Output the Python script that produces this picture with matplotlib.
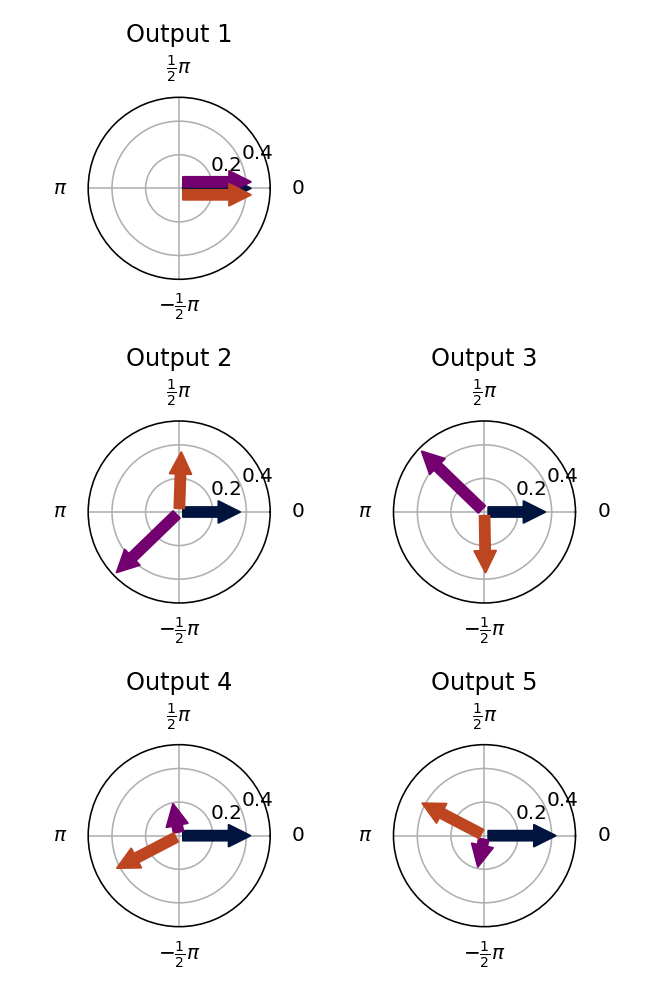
import matplotlib
matplotlib.use("Agg")
import matplotlib.pyplot as plt
import matplotlib.transforms as mtransforms
import numpy as np

# one panel per output, three input phasors in each
outputs = ["Output 1", "Output 2", "Output 3", "Output 4", "Output 5"]
colors = ["#00143F", "#74006F", "#BD4520"]

# magnitudes (0.2 / 0.4)
mag_a = [0.449, 0.385, 0.384, 0.446, 0.446]
mag_b = [0.449, 0.540, 0.542, 0.215, 0.212]
mag_c = [0.449, 0.379, 0.383, 0.440, 0.440]

# phases in degrees
phase_a = [0, 0, 0, 0, 0]
phase_b = [0, -136, 136, 101, -102]
phase_c = [0, 88, -89, -152.5, 152.5]

mags = [mag_a, mag_b, mag_c]
phases = [phase_a, phase_b, phase_c]

theta_ticks = [0, np.pi / 2, np.pi, 3 * np.pi / 2]
theta_labels = [r"$0$", r"$\frac{1}{2}\pi$", r"$\pi$", r"$-\frac{1}{2}\pi$"]
r_ticks = [0.2, 0.4]

DPI = 144
fig = plt.figure(figsize=(664 / DPI, 993 / DPI), dpi=DPI)
slots = [1, 3, 4, 5, 6]
rmax = max(max(m) for m in mags)
dodge_pt = 3.25  # nudge for arrows that would sit on top of each other

for k, slot in enumerate(slots):
    ax = fig.add_subplot(3, 2, slot, projection="polar")
    ax.set_ylim(0, rmax)
    ax.set_xticks(theta_ticks)
    ax.set_xticklabels(theta_labels)
    ax.set_yticks(r_ticks)
    ax.grid(True)
    ax.set_title(outputs[k])

    seen = []
    for j in range(3):
        phi = np.deg2rad(phases[j][k])
        r = mags[j][k]
        n_same = sum(1 for p in seen if np.isclose(p, phi))
        seen.append(phi)
        if n_same == 0:
            step = 0
        else:
            step = 1 if n_same % 2 == 1 else -1
        off = step * dodge_pt / 72
        trans = ax.transData + mtransforms.ScaledTranslation(
            -np.sin(phi) * off, np.cos(phi) * off, fig.dpi_scale_trans)
        ax.annotate("", xy=(phi, r), xytext=(0, 0),
                    xycoords=trans, textcoords=trans,
                    arrowprops=dict(
                        arrowstyle="simple,head_length=1.08,head_width=1.08,tail_width=0.49",
                        mutation_scale=10, color=colors[j],
                        shrinkA=1.9, shrinkB=1.9),
                    zorder=3 + j)

plt.subplots_adjust(left=0.1328, right=0.8667, bottom=0.0668, top=0.902,
                    wspace=0.6775, hspace=0.7785)
plt.savefig("out.png", dpi=DPI)
